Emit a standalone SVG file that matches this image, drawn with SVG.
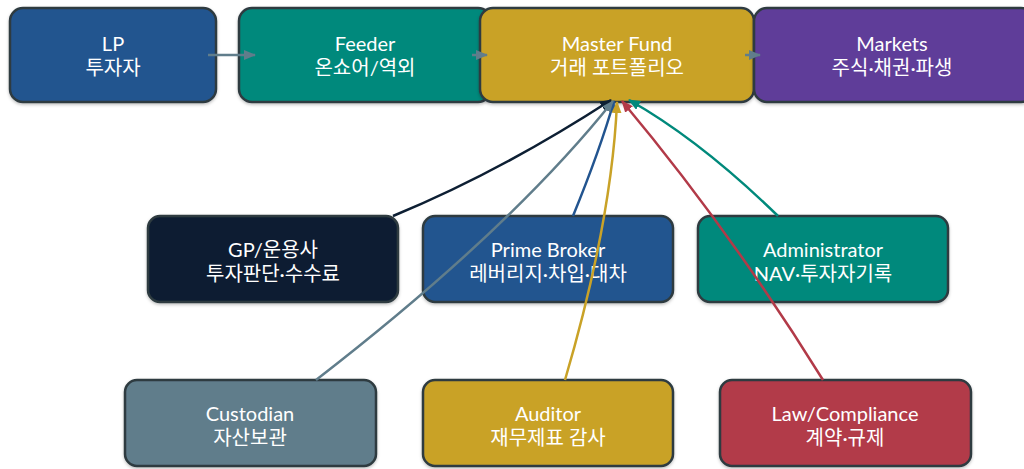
<svg xmlns="http://www.w3.org/2000/svg" width="1024" height="469" viewBox="0 0 1024 469">
<defs>
<filter id="sh" x="-10%" y="-10%" width="120%" height="130%">
<feDropShadow dx="0" dy="1.5" stdDeviation="1.5" flood-color="#000" flood-opacity="0.25"/>
</filter>
<marker id="ag" viewBox="0 0 12 10" refX="11" refY="5" markerWidth="12" markerHeight="10" markerUnits="userSpaceOnUse" orient="auto"><path d="M0,0 L12,5 L0,10 z" fill="#607d8b"/></marker>
<marker id="an" viewBox="0 0 12 10" refX="11" refY="5" markerWidth="12" markerHeight="10" markerUnits="userSpaceOnUse" orient="auto"><path d="M0,0 L12,5 L0,10 z" fill="#0d1f33"/></marker>
<marker id="ab" viewBox="0 0 12 10" refX="11" refY="5" markerWidth="12" markerHeight="10" markerUnits="userSpaceOnUse" orient="auto"><path d="M0,0 L12,5 L0,10 z" fill="#22548f"/></marker>
<marker id="ay" viewBox="0 0 12 10" refX="11" refY="5" markerWidth="12" markerHeight="10" markerUnits="userSpaceOnUse" orient="auto"><path d="M0,0 L12,5 L0,10 z" fill="#c9a227"/></marker>
<marker id="ar" viewBox="0 0 12 10" refX="11" refY="5" markerWidth="12" markerHeight="10" markerUnits="userSpaceOnUse" orient="auto"><path d="M0,0 L12,5 L0,10 z" fill="#b23a48"/></marker>
<marker id="at" viewBox="0 0 12 10" refX="11" refY="5" markerWidth="12" markerHeight="10" markerUnits="userSpaceOnUse" orient="auto"><path d="M0,0 L12,5 L0,10 z" fill="#00897b"/></marker>
</defs>
<style>
.box{stroke:#2e3a40;stroke-width:2.5;filter:url(#sh)}
.t{font-family:"Lato","Noto Sans CJK KR",sans-serif;font-size:20px;fill:#fff;text-anchor:middle}
.c{fill:none;stroke-width:2.5}
</style>
<g id="nodes">
<g id="lp"><rect class="box" x="10" y="8" width="206" height="94" rx="13" fill="#23548f"/><text class="t"><tspan x="113" y="51">LP</tspan><tspan x="113" y="75">투자자</tspan></text></g>
<g id="feeder"><rect class="box" x="239" y="8" width="252" height="94" rx="13" fill="#00897b"/><text class="t"><tspan x="365" y="51">Feeder</tspan><tspan x="365" y="75">온쇼어/역외</tspan></text></g>
<g id="master"><rect class="box" x="480" y="8" width="274" height="94" rx="13" fill="#c9a227"/><text class="t"><tspan x="617" y="51">Master Fund</tspan><tspan x="617" y="75">거래 포트폴리오</tspan></text></g>
<g id="markets"><rect class="box" x="754" y="8" width="280" height="94" rx="13" fill="#5e3c99"/><text class="t"><tspan x="892" y="51">Markets</tspan><tspan x="892" y="75">주식·채권·파생</tspan></text></g>
<g id="gp"><rect class="box" x="148" y="216" width="250" height="86" rx="12" fill="#0d1f33"/><text class="t"><tspan x="273" y="257">GP/운용사</tspan><tspan x="273" y="281">투자판단·수수료</tspan></text></g>
<g id="pb"><rect class="box" x="423" y="216" width="250" height="86" rx="12" fill="#23548f"/><text class="t"><tspan x="548" y="257">Prime Broker</tspan><tspan x="548" y="281">레버리지·차입·대차</tspan></text></g>
<g id="admin"><rect class="box" x="698" y="216" width="250" height="86" rx="12" fill="#00897b"/><text class="t"><tspan x="823" y="257">Administrator</tspan><tspan x="823" y="281">NAV·투자자기록</tspan></text></g>
<g id="cust"><rect class="box" x="125" y="380" width="251" height="86" rx="12" fill="#607d8b"/><text class="t"><tspan x="250" y="421">Custodian</tspan><tspan x="250" y="445">자산보관</tspan></text></g>
<g id="aud"><rect class="box" x="423" y="380" width="250" height="86" rx="12" fill="#c9a227"/><text class="t"><tspan x="548" y="421">Auditor</tspan><tspan x="548" y="445">재무제표 감사</tspan></text></g>
<g id="law"><rect class="box" x="720" y="380" width="251" height="86" rx="12" fill="#b23a48"/><text class="t"><tspan x="845" y="421">Law/Compliance</tspan><tspan x="845" y="445">계약·규제</tspan></text></g>
</g>
<g id="connectors">
<path class="c" stroke="#607d8b" d="M208,55 L255,55" marker-end="url(#ag)"/>
<path class="c" stroke="#607d8b" d="M472,55 L487,55" marker-end="url(#ag)"/>
<path class="c" stroke="#607d8b" d="M745,55 L760,55" marker-end="url(#ag)"/>
<path class="c" stroke="#0d1f33" d="M393,216 Q500,172 611,100" marker-end="url(#an)"/>
<path class="c" stroke="#22548f" d="M573,216 Q600,150 614,101" marker-end="url(#ab)"/>
<path class="c" stroke="#00897b" d="M778,216 Q700,140 629,100" marker-end="url(#at)"/>
<path class="c" stroke="#607d8b" d="M316,380 Q510,230 613,101" marker-end="url(#ag)"/>
<path class="c" stroke="#c9a227" d="M565,380 Q612,220 617,102" marker-end="url(#ay)"/>
<path class="c" stroke="#b23a48" d="M823,380 Q730,230 622,101" marker-end="url(#ar)"/>
</g>
</svg>
